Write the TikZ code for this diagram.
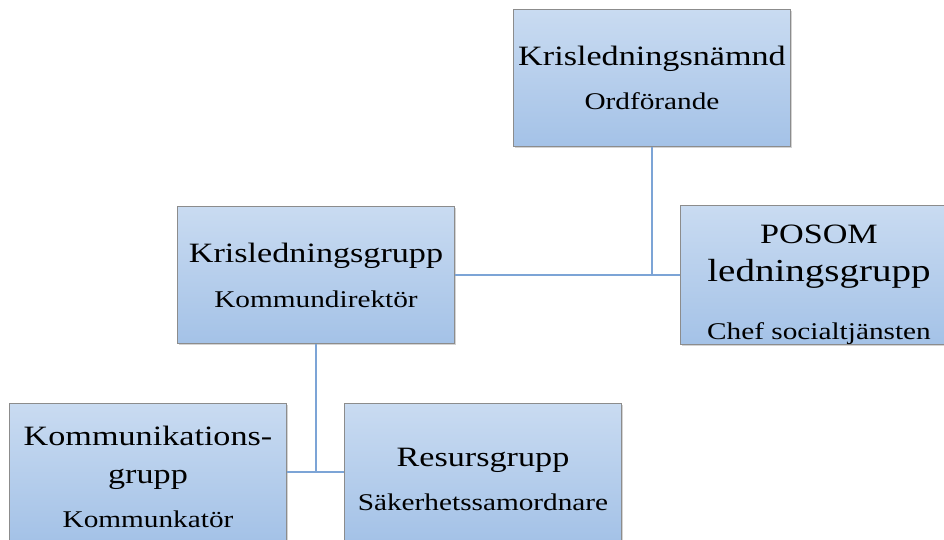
\documentclass[tikz,border=0pt]{standalone}
\usepackage{fontspec}
\setmainfont{Liberation Serif}
\newfontfamily\boxfont[FakeStretch=1.22]{Liberation Serif}
\usepackage{xcolor}
\usepackage{tikz}
\usetikzlibrary{positioning, shadows}

\definecolor{boxtop}{RGB}{201,219,241}
\definecolor{boxbottom}{RGB}{164,194,231}
\definecolor{boxline}{RGB}{140,140,140}
\definecolor{linkblue}{RGB}{124,164,214}

\newcommand{\boxtitle}{\fontsize{28}{38}\selectfont}
\newcommand{\boxsub}{\fontsize{24}{38}\selectfont}

\begin{document}
\begin{tikzpicture}[x=1pt, y=1pt,
  orgbox/.style={draw=boxline, line width=1pt, top color=boxtop, bottom color=boxbottom,
    minimum width=277pt, minimum height=137pt, inner sep=0pt, align=center,
    font=\boxfont\fontsize{24}{38}\selectfont,
    drop shadow={shadow xshift=1pt, shadow yshift=-1.5pt, opacity=0.35}},
  link/.style={draw=linkblue, line width=2.8pt}]

\useasboundingbox (0,0) rectangle (944,-539);

% middle level
\node[orgbox] (grupp) at (316,-275) {{\boxtitle Krisledningsgrupp}\\[7pt]{\boxsub Kommundirektör}};
\node[orgbox, above right=59pt and 58pt of grupp] (nmnd) {{\boxtitle Krisledningsnämnd}\\[6pt]{\boxsub Ordförande}};
\node[orgbox, right=225pt of grupp] (posom) {{\boxtitle\rule{0pt}{38pt}POSOM}\\{\fontsize{32}{38}\selectfont ledningsgrupp}\\[20pt]{\boxsub Chef socialtjänsten}};

% lower level
\node[orgbox, below=59pt of grupp, xshift=-168pt] (komm) {{\boxtitle\rule{0pt}{30pt}Kommunikations-}\\{\boxtitle grupp}\\[6pt]{\boxsub Kommunkatör}};
\node[orgbox, right=57pt of komm] (resurs) {{\boxtitle\rule{0pt}{34pt}Resursgrupp}\\[6pt]{\boxsub Säkerhetssamordnare}};

% connectors
\draw[link] (grupp.east) -- (posom.west);
\draw[link] (nmnd.south) -- (nmnd.south |- grupp.east);
\draw[link] (komm.east) -- (resurs.west);
\draw[link] (grupp.south) -- (grupp.south |- komm.east);

\end{tikzpicture}
\end{document}
